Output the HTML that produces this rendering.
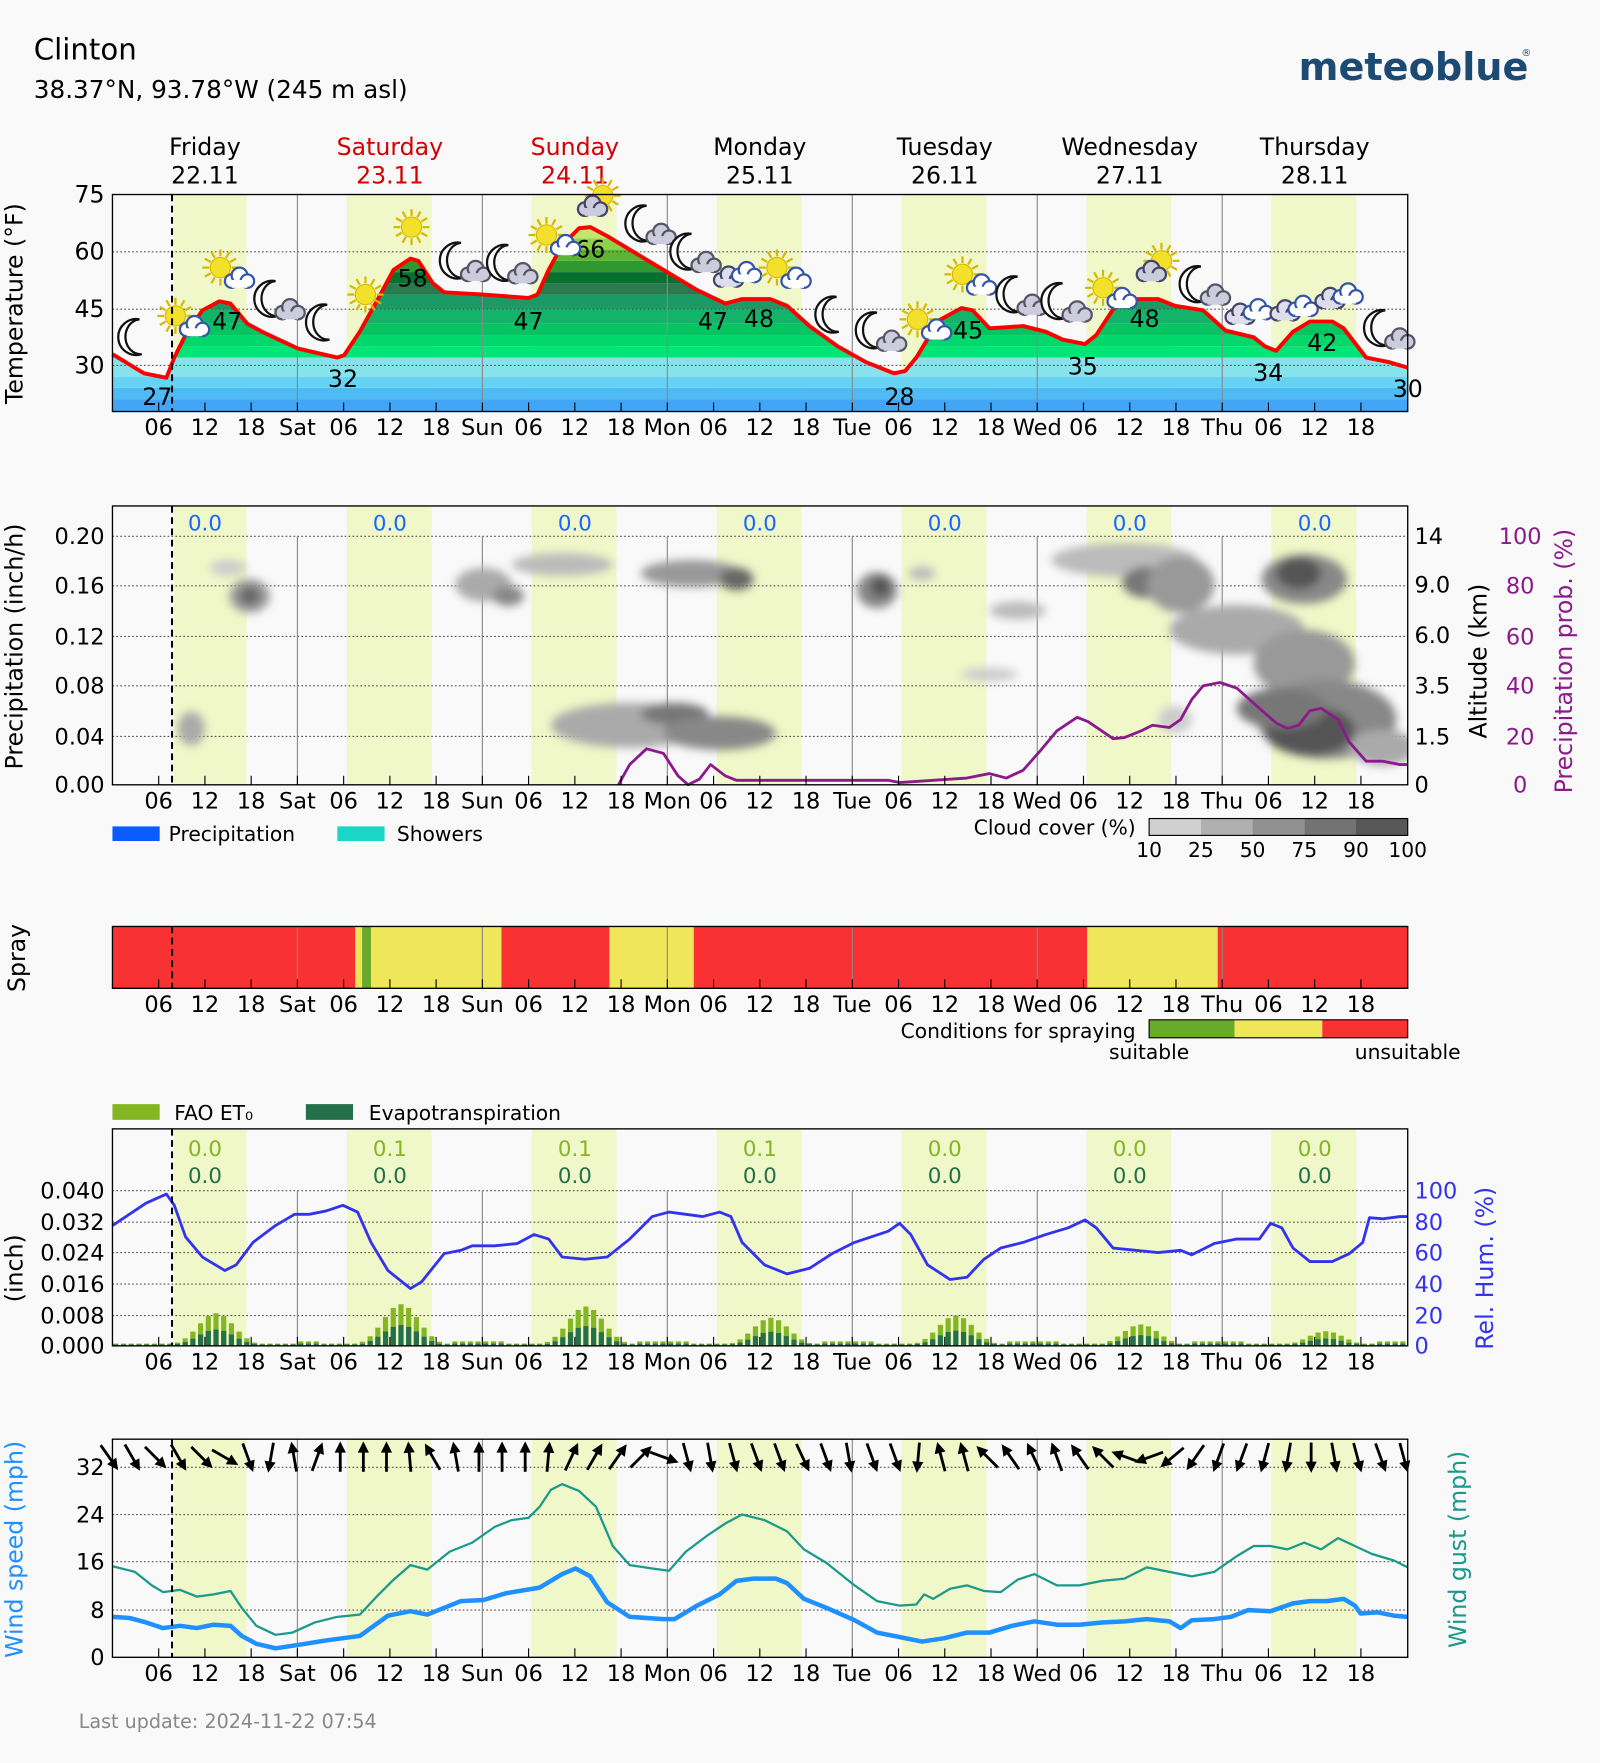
<!DOCTYPE html>
<html><head><meta charset="utf-8"><style>
html,body{margin:0;padding:0;background:#f9f9f9;}
svg{display:block;font-family:"DejaVu Sans","Liberation Sans",sans-serif;}
</style></head><body>
<svg id="s" xmlns="http://www.w3.org/2000/svg" width="1600" height="1763" viewBox="0 0 1423 1568">
<defs>
<filter id="bl" x="-50%" y="-50%" width="200%" height="200%"><feGaussianBlur stdDeviation="4"/></filter>
<clipPath id="c2"><rect x="100" y="450" width="1152" height="248"/></clipPath>
</defs>
<rect width="1423" height="1568" fill="#f9f9f9"/>
<text x="30" y="53" font-size="26">Clinton</text>
<text x="30" y="87" font-size="22">38.37°N, 93.78°W (245 m asl)</text>
<text x="1155" y="71" font-size="34" font-weight="bold" fill="#1d4a73">meteoblue</text>
<text x="1353" y="50" font-size="9" fill="#1d4a73">®</text>
<g id="g"></g>
<text x="70" y="1537" font-size="17" fill="#888">Last update: 2024-11-22 07:54</text>
</svg>
<script>
const G=document.getElementById('g');
let H='';
const X=h=>100+h*6.8542;
const L=1252-100;
function band(y0,y1){for(let d=0;d<7;d++){const s=d==0?8:6.4;H+=`<rect x="${X(d*24+s)}" y="${y0}" width="${X(d*24+17.4)-X(d*24+s)}" height="${y1-y0}" fill="#f0f7c8"/>`;}}
function vlines(y0,y1){for(let d=1;d<7;d++)H+=`<line x1="${X(d*24)}" x2="${X(d*24)}" y1="${y0}" y2="${y1}" stroke="#888" stroke-width="1"/>`;}
function grid(ys){ys.forEach(y=>H+=`<line x1="100" x2="1252" y1="${y}" y2="${y}" stroke="#555" stroke-width="1" stroke-dasharray="1.5,2"/>`);}
function ticks(y1,ty){const days=['Sat','Sun','Mon','Tue','Wed','Thu'];
 for(let h=6;h<168;h+=6){const x=X(h);H+=`<line x1="${x}" x2="${x}" y1="${y1}" y2="${y1-8}" stroke="#000"/>`;
 let lab=h%24==0?days[h/24-1]:String(h%24).padStart(2,'0');H+=`<text x="${x}" y="${ty}" font-size="20" text-anchor="middle">${lab}</text>`;}}
function frame(y0,y1){H+=`<rect x="100" y="${y0}" width="${L}" height="${y1-y0}" fill="none" stroke="#000" stroke-width="1.2"/>`;}
function dash(y0,y1){H+=`<line x1="153" x2="153" y1="${y0}" y2="${y1}" stroke="#000" stroke-width="1.8" stroke-dasharray="6,4"/>`;}
function poly(pts,c,w){H+=`<polyline points="${pts.map(p=>p.join(',')).join(' ')}" fill="none" stroke="${c}" stroke-width="${w}" stroke-linejoin="round"/>`;}
function ylab(x,y,t,c,sz){H+=`<text transform="translate(${x},${y}) rotate(-90)" font-size="${sz||21}" text-anchor="middle" fill="${c||'#000'}">${t}</text>`;}
const dn=['Friday','Saturday','Sunday','Monday','Tuesday','Wednesday','Thursday'],dd=['22.11','23.11','24.11','25.11','26.11','27.11','28.11'];
dn.forEach((n,i)=>{const c=(i==1||i==2)?'#d40000':'#000';const x=X(i*24+12);H+=`<text x="${x}" y="138" font-size="21" text-anchor="middle" fill="${c}">${n}</text><text x="${x}" y="163" font-size="21" text-anchor="middle" fill="${c}">${dd[i]}</text>`;});
// Panel 1
band(173,366);
const T=[[100,315],[128,332],[148,336],[155,318],[165,298],[180,276],[195,268],[205,270],[220,288],[235,296],[265,310],[300,318],[306,316],[320,295],[335,268],[350,240],[365,230],[372,232],[385,252],[395,260],[430,262],[470,265],[478,262],[488,240],[500,218],[515,203],[525,202],[540,210],[560,222],[590,240],[620,258],[645,270],[660,266],[685,266],[700,272],[720,290],[745,308],[770,322],[795,332],[805,330],[815,318],[835,285],[855,274],[865,276],[880,292],[910,290],[930,295],[945,302],[965,306],[975,298],[990,275],[1005,266],[1030,266],[1045,272],[1070,276],[1090,294],[1115,300],[1125,308],[1135,312],[1150,295],[1165,286],[1185,286],[1195,292],[1215,318],[1235,322],[1252,327]];
H+=`<clipPath id="c1"><polygon points="${T.map(p=>p.join(',')).join(' ')} 1252,366 100,366"/></clipPath><g clip-path="url(#c1)">`;
const bands=[[355,366,'#42a5f5'],[345,355,'#4fbbf5'],[335,345,'#66d3f5'],[318,335,'#86e3ec'],[308,318,'#00e676'],[298,308,'#00d86c'],[288,298,'#06c462'],[275,288,'#13b369'],[262,275,'#1a9a64'],[252,262,'#2a7a50'],[242,252,'#06702f'],[232,242,'#2f9930'],[222,232,'#5cb532'],[212,222,'#8ed14b'],[202,212,'#c2e56d'],[173,202,'#e5cf80']];
bands.forEach(b=>H+=`<rect x="100" y="${b[0]}" width="${L}" height="${b[1]-b[0]}" fill="${b[2]}"/>`);
H+=`</g>`;
grid([224,275,325]);vlines(173,366);
poly(T,'#f00',3.5);
[[27,140,360],[47,202,293],[32,305,344],[58,367,255],[47,470,293],[66,525,229],[47,634,293],[48,675,291],[28,800,360],[45,861,301],[35,963,333],[48,1018,291],[34,1128,339],[42,1176,312],[30,1252,353]].forEach(t=>H+=`<text x="${t[1]}" y="${t[2]}" font-size="21" text-anchor="middle">${t[0]}</text>`);
function sun(x,y){let s=`<g stroke="#d9b800" stroke-width="2">`;for(let a=0;a<360;a+=30){const r=a*Math.PI/180;s+=`<line x1="${x+Math.cos(r)*10}" y1="${y+Math.sin(r)*10}" x2="${x+Math.cos(r)*16}" y2="${y+Math.sin(r)*16}"/>`;}return s+`</g><circle cx="${x}" cy="${y}" r="9" fill="#f2e02a" stroke="#d9b800"/>`;}
function moon(x,y){return `<path d="M${x+4},${y-16} A16,16 0 1,0 ${x+6},${y+15} A13,15 0 0,1 ${x+4},${y-16}Z" fill="#fff" stroke="#111" stroke-width="2"/>`;}
function cloud(x,y,c,s){c=c||'#fff';s=s||'#3355aa';return `<g fill="${c}" stroke="${s}" stroke-width="2"><circle cx="${x-6}" cy="${y}" r="6"/><circle cx="${x+1}" cy="${y-5}" r="7"/><circle cx="${x+8}" cy="${y}" r="6"/><rect x="${x-6}" y="${y-1}" width="14" height="7" stroke="none"/></g>`;}
const IC=[['m',120,300],['sc',160,285],['sc',200,242],['mc',245,270],['m',287,287],['s',325,262],['s',366,202],['mc',410,236],['mc',452,238],['sc',490,213],['cs',528,182],['mc',575,203],['mc',615,228],['cc',655,245],['sc',695,242],['m',740,280],['mc',780,298],['sc',820,288],['sc',860,248],['mc',905,266],['mc',945,272],['sc',985,260],['cs',1025,240],['mc',1068,257],['cc',1110,278],['cc',1150,275],['cc',1190,264],['mc',1232,296]];
IC.forEach(i=>{const[t,x,y]=i;if(t=='m')H+=moon(x,y);if(t=='s')H+=sun(x,y);if(t=='sc')H+=sun(x-4,y-4)+cloud(x+12,y+8);if(t=='mc')H+=moon(x-4,y-4)+cloud(x+12,y+8,'#ccd','#556');if(t=='cs')H+=sun(x+8,y-8)+cloud(x-2,y+4,'#ccd','#446');if(t=='cc')H+=cloud(x-8,y+4,'#dde','#446')+cloud(x+8,y,'#fff','#3355aa');});
frame(173,366);ticks(366,387);
[[75,173],[60,224],[45,275],[30,325]].forEach(t=>H+=`<text x="93" y="${t[1]+7}" font-size="21" text-anchor="end">${t[0]}</text>`);
ylab(20,270,'Temperature (°F)');
dash(173,366);
// Panel 2
band(450,698);
grid([477,521,566,610,655]);vlines(477,698);
H+=`<g clip-path="url(#c2)" filter="url(#bl)">`;
const CL=[[203,505,16,7,'#ccc'],[222,530,18,15,'#999'],[222,530,9,8,'#666'],[170,648,12,15,'#aaa'],[430,520,25,15,'#aaa'],[452,530,14,9,'#888'],[500,502,45,10,'#bbb'],[615,510,45,12,'#999'],[655,515,15,10,'#666'],[780,525,18,16,'#888'],[783,522,9,9,'#555'],[820,510,12,6,'#bbb'],[905,543,25,8,'#bbb'],[560,645,70,20,'#aaa'],[600,635,30,10,'#777'],[640,652,50,15,'#888'],[1000,498,65,15,'#bbb'],[1020,518,22,14,'#777'],[1050,520,30,25,'#999'],[1160,515,38,22,'#888'],[1155,510,20,14,'#555'],[1100,560,60,22,'#aaa'],[1160,590,45,30,'#999'],[1180,640,62,35,'#888'],[1165,650,40,22,'#555'],[1140,630,40,18,'#777'],[1230,665,30,16,'#aaa'],[880,600,25,6,'#ccc'],[1045,640,15,12,'#ccc']];
CL.forEach(c=>H+=`<ellipse cx="${c[0]}" cy="${c[1]}" rx="${c[2]}" ry="${c[3]}" fill="${c[4]}"/>`);
H+=`</g>`;
poly([[550,698],[560,680],[575,666],[590,670],[603,690],[612,698],[622,693],[632,680],[645,690],[655,694],[790,694],[800,696],[830,694],[860,692],[880,688],[895,692],[910,685],[925,668],[940,650],[958,638],[968,642],[990,657],[1000,656],[1015,650],[1025,645],[1040,647],[1050,640],[1060,622],[1070,610],[1085,607],[1100,612],[1120,630],[1135,643],[1145,648],[1155,645],[1165,632],[1175,630],[1190,640],[1200,660],[1215,677],[1230,677],[1245,680],[1252,680]],'#8b1a8b',2.5);
for(let d=0;d<7;d++)H+=`<text x="${X(d*24+12)}" y="472" font-size="19" text-anchor="middle" fill="#1a66ff">0.0</text>`;
frame(450,698);ticks(698,719);dash(450,698);
[['0.20',477],['0.16',521],['0.12',566],['0.08',610],['0.04',655],['0.00',698]].forEach(t=>H+=`<text x="93" y="${t[1]+7}" font-size="20" text-anchor="end">${t[0]}</text>`);
[['14',477],['9.0',520],['6.0',565],['3.5',610],['1.5',655],['0',698]].forEach(t=>H+=`<text x="1258" y="${t[1]+7}" font-size="20">${t[0]}</text>`);
[['100',477],['80',521],['60',566],['40',610],['20',655],['0',698]].forEach(t=>H+=`<text x="1352" y="${t[1]+7}" font-size="20" text-anchor="middle" fill="#8b1a8b">${t[0]}</text>`);
ylab(20,575,'Precipitation (inch/h)');ylab(1322,588,'Altitude (km)');ylab(1398,588,'Precipitation prob. (%)','#8b1a8b');
H+=`<rect x="100" y="735" width="42" height="13" fill="#0a5cff"/><text x="150" y="748" font-size="18">Precipitation</text><rect x="300" y="735" width="42" height="13" fill="#1ad6c6"/><text x="353" y="748" font-size="18">Showers</text>`;
H+=`<text x="1010" y="742" font-size="18" text-anchor="end">Cloud cover (%)</text>`;
['#d0d0d0','#b0b0b0','#909090','#737373','#575757'].forEach((c,i)=>H+=`<rect x="${1022+i*46}" y="728" width="46" height="15" fill="${c}"/>`);
H+=`<rect x="1022" y="728" width="230" height="15" fill="none" stroke="#000"/>`;
[10,25,50,75,90,100].forEach((v,i)=>H+=`<text x="${1022+i*46}" y="762" font-size="18" text-anchor="middle">${v}</text>`);
// Panel 3
const SP=[[100,316,'#f83232'],[316,322,'#f0e65a'],[322,330,'#6aaa2a'],[330,446,'#f0e65a'],[446,542,'#f83232'],[542,617,'#f0e65a'],[617,967,'#f83232'],[967,1083,'#f0e65a'],[1083,1252,'#f83232']];
SP.forEach(s=>H+=`<rect x="${s[0]}" y="824" width="${s[1]-s[0]}" height="55" fill="${s[2]}"/>`);
vlines(824,879);frame(824,879);ticks(879,900);dash(824,879);
ylab(22,852,'Spray');
H+=`<text x="1010" y="923" font-size="18" text-anchor="end">Conditions for spraying</text><rect x="1022" y="907" width="76" height="16" fill="#6aaa2a"/><rect x="1098" y="907" width="78" height="16" fill="#f0e65a"/><rect x="1176" y="907" width="76" height="16" fill="#f83232"/><rect x="1022" y="907" width="230" height="16" fill="none" stroke="#000"/><text x="1022" y="942" font-size="18" text-anchor="middle">suitable</text><text x="1252" y="942" font-size="18" text-anchor="middle">unsuitable</text>`;
// Panel 4
H+=`<rect x="100" y="982" width="42" height="14" fill="#84b523"/><text x="155" y="996" font-size="18">FAO ET₀</text><rect x="272" y="982" width="42" height="14" fill="#23704a"/><text x="328" y="996" font-size="18">Evapotranspiration</text>`;
band(1004,1197);grid([1059,1087,1114,1142,1170]);vlines(1059,1197);
const pk=[29,37,35,25,27,19,13];
for(let h=0;h<168;h++){const d=Math.floor(h/24),hr=h%24;let v=2;if(hr>=8&&hr<=19){v=Math.max(2,pk[d]*Math.exp(-Math.pow((hr-13)/3.3,2)));}else if(d>=1&&(hr>19||hr<3))v=4;
 const x=X(h)+0.7,w=4.6;H+=`<rect x="${x}" y="${1197-v}" width="${w}" height="${v}" fill="#84b523"/>`;const v2=v>3?v*0.5:v*0.6;H+=`<rect x="${x}" y="${1197-v2}" width="${w}" height="${v2}" fill="#23704a"/>`;}
poly([[100,1090],[115,1080],[130,1070],[148,1062],[155,1072],[165,1100],[180,1118],[200,1130],[210,1125],[225,1105],[245,1090],[262,1080],[275,1080],[290,1077],[305,1072],[318,1078],[330,1105],[345,1130],[365,1146],[375,1140],[395,1115],[410,1112],[420,1108],[440,1108],[460,1106],[475,1098],[488,1102],[500,1118],[520,1120],[540,1118],[560,1102],[580,1082],[595,1078],[610,1080],[625,1082],[640,1078],[650,1082],[660,1105],[680,1125],[700,1133],[720,1128],[740,1115],[760,1105],[790,1095],[800,1088],[810,1098],[825,1125],[845,1138],[860,1136],[875,1120],[890,1110],[910,1105],[930,1098],[950,1092],[965,1085],[975,1092],[990,1110],[1010,1112],[1030,1114],[1050,1112],[1060,1116],[1080,1106],[1100,1102],[1120,1102],[1130,1088],[1140,1092],[1150,1110],[1165,1122],[1185,1122],[1200,1115],[1212,1105],[1218,1083],[1230,1084],[1245,1082],[1252,1082]],'#3333ee',2.5);
['0.0','0.1','0.1','0.1','0.0','0.0','0.0'].forEach((v,d)=>{const x=X(d*24+12);H+=`<text x="${x}" y="1028" font-size="19" text-anchor="middle" fill="#84b523">${v}</text><text x="${x}" y="1052" font-size="19" text-anchor="middle" fill="#23704a">0.0</text>`;});
frame(1004,1197);ticks(1197,1218);dash(1004,1197);
[['0.040',1059],['0.032',1087],['0.024',1114],['0.016',1142],['0.008',1170],['0.000',1197]].forEach(t=>H+=`<text x="93" y="${t[1]+7}" font-size="20" text-anchor="end">${t[0]}</text>`);
[['100',1059],['80',1087],['60',1114],['40',1142],['20',1170],['0',1197]].forEach(t=>H+=`<text x="1258" y="${t[1]+7}" font-size="20" fill="#3333ee">${t[0]}</text>`);
ylab(20,1128,'(inch)');ylab(1328,1128,'Rel. Hum. (%)','#3333ee');
// Panel 5
band(1280,1474);grid([1305,1347,1389,1432]);vlines(1280,1474);
poly([[100,1393],[120,1398],[135,1410],[145,1416],[160,1414],[175,1420],[190,1418],[205,1415],[215,1430],[228,1446],[245,1454],[260,1452],[280,1443],[300,1438],[320,1436],[335,1420],[350,1405],[365,1392],[380,1396],[400,1380],[420,1372],[440,1358],[455,1352],[470,1350],[480,1340],[490,1325],[500,1320],[515,1326],[530,1340],[545,1375],[560,1392],[580,1395],[595,1397],[610,1380],[630,1365],[645,1355],[660,1347],[680,1352],[700,1362],[715,1378],[735,1390],[760,1410],[780,1424],[800,1428],[815,1427],[822,1418],[830,1422],[845,1413],[860,1410],[875,1415],[890,1416],[905,1405],[920,1400],[940,1410],[960,1410],[980,1406],[1000,1404],[1020,1394],[1040,1398],[1060,1402],[1080,1398],[1100,1384],[1115,1375],[1130,1375],[1145,1378],[1160,1372],[1175,1378],[1190,1368],[1205,1375],[1220,1382],[1240,1388],[1252,1394]],'#1a9a8a',2);
poly([[100,1438],[115,1439],[130,1443],[145,1448],[160,1446],[175,1448],[190,1445],[205,1446],[215,1455],[228,1462],[245,1466],[265,1463],[290,1459],[320,1455],[345,1437],[365,1433],[380,1436],[395,1430],[410,1424],[430,1423],[450,1417],[480,1412],[500,1400],[512,1395],[525,1402],[540,1425],[560,1438],[590,1440],[600,1440],[620,1428],[640,1418],[655,1406],[670,1404],[690,1404],[700,1408],[715,1422],[735,1430],[760,1441],[780,1452],[820,1460],[840,1457],[860,1452],[880,1452],[900,1446],[920,1442],[940,1445],[960,1445],[980,1443],[1000,1442],[1020,1440],[1040,1442],[1050,1448],[1060,1441],[1080,1440],[1095,1438],[1110,1432],[1130,1433],[1150,1426],[1165,1424],[1180,1424],[1195,1422],[1205,1428],[1210,1435],[1225,1434],[1240,1437],[1252,1438]],'#1e90ff',4);
const AN=[145,150,135,150,135,120,160,190,350,20,0,0,0,355,330,350,0,0,0,5,25,30,35,45,110,165,170,165,160,160,155,160,170,160,160,185,345,345,315,325,335,340,325,315,290,250,230,215,200,200,195,190,180,170,165,160,165];
for(let i=0;i<57;i++){const x=97+i*20.56,y=1296,a=AN[i];H+=`<g transform="translate(${x},${y}) rotate(${a})"><line x1="0" y1="13" x2="0" y2="-8" stroke="#000" stroke-width="2.5"/><polygon points="0,-14 -5,-4 5,-4" fill="#000"/></g>`;}
frame(1280,1474);ticks(1474,1495);dash(1280,1474);
[['32',1305],['24',1347],['16',1389],['8',1432],['0',1474]].forEach(t=>H+=`<text x="93" y="${t[1]+7}" font-size="20" text-anchor="end">${t[0]}</text>`);
ylab(20,1378,'Wind speed (mph)','#1e90ff');ylab(1304,1378,'Wind gust (mph)','#1a9a8a');
G.innerHTML=H;
</script>
</body></html>
